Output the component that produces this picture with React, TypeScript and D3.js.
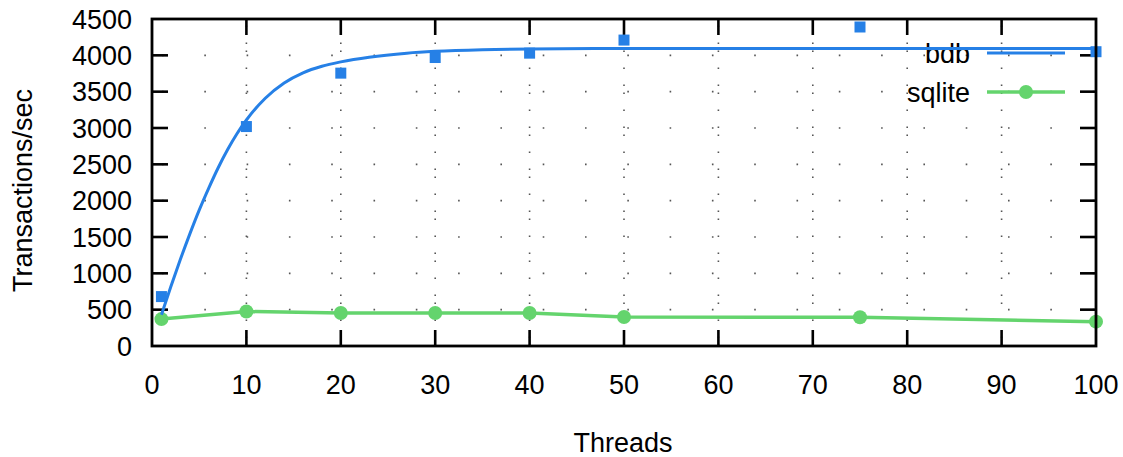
import React from "react";
import * as d3 from "d3";

const threads = [1, 10, 20, 30, 40, 50, 75, 100];
const bdbValues = [680, 3020, 3755, 3970, 4030, 4210, 4390, 4050];
const sqliteValues = [370, 475, 455, 455, 455, 400, 395, 335];

// bdb fitted curve
const bdbFitX = [1, 2, 3, 4, 5, 6, 7, 8, 9, 10, 12, 14, 16, 18, 20, 23, 27, 30, 35, 40, 50, 75, 100];
const bdbFitY = [430, 820, 1190, 1540, 1870, 2170, 2450, 2700, 2920, 3110, 3410, 3620, 3760, 3850, 3910, 3975, 4030, 4055, 4078, 4088, 4094, 4095, 4095];

const xTicks = [0, 10, 20, 30, 40, 50, 60, 70, 80, 90, 100];
const yTicks = [0, 500, 1000, 1500, 2000, 2500, 3000, 3500, 4000, 4500];

const W = 1123;
const H = 457;
const M = { left: 152, right: 1096, top: 19, bottom: 346 };
const BLUE = "#2680e6";
const GREEN = "#64d46d";
const FONT = "'Liberation Sans', Arial, sans-serif";
const FS = 27;

export default function App() {
  const x = d3.scaleLinear().domain([0, 100]).range([M.left, M.right]);
  const y = d3.scaleLinear().domain([0, 4500]).range([M.bottom, M.top]);
  const tick = 16;

  const fitPts: [number, number][] = bdbFitX.map((v, i) => [v, bdbFitY[i]]);
  const fitLine = d3
    .line<[number, number]>()
    .x((d) => x(d[0]))
    .y((d) => y(d[1]))
    .curve(d3.curveMonotoneX)(fitPts) as string;

  const sqPts: [number, number][] = threads.map((t, i) => [t, sqliteValues[i]]);
  const sqLine = d3
    .line<[number, number]>()
    .x((d) => x(d[0]))
    .y((d) => y(d[1]))(sqPts) as string;

  return (
    <svg
      width={W}
      height={H}
      style={{ position: "absolute", left: 0, top: 0, background: "#fff" }}
      fontFamily={FONT}
    >
      <rect x={0} y={0} width={W} height={H} fill="#fff" />
      {/* grid */}
      {xTicks.slice(1, -1).map((t) => (
        <line
          key={"gx" + t}
          x1={x(t)}
          x2={x(t)}
          y1={M.bottom}
          y2={M.top}
          stroke="#555"
          strokeWidth={1.6}
          strokeDasharray="1.6,6.4,1.6,15.4,1.6,15.4"
        />
      ))}
      {yTicks.slice(1, -1).map((t) => (
        <line
          key={"gy" + t}
          x1={M.left}
          x2={M.right}
          y1={y(t)}
          y2={y(t)}
          stroke="#555"
          strokeWidth={1.6}
          strokeDasharray="1.6,40.7"
          strokeDashoffset={-10}
        />
      ))}
      {/* ticks */}
      {xTicks.slice(1, -1).map((t) => (
        <g key={"tx" + t}>
          <line x1={x(t)} x2={x(t)} y1={M.bottom} y2={M.bottom - tick} stroke="#000" strokeWidth={2.6} />
          <line x1={x(t)} x2={x(t)} y1={M.top} y2={M.top + tick} stroke="#000" strokeWidth={2.6} />
        </g>
      ))}
      {yTicks.slice(1, -1).map((t) => (
        <g key={"ty" + t}>
          <line x1={M.left} x2={M.left + tick} y1={y(t)} y2={y(t)} stroke="#000" strokeWidth={2.6} />
          <line x1={M.right} x2={M.right - tick} y1={y(t)} y2={y(t)} stroke="#000" strokeWidth={2.6} />
        </g>
      ))}
      {/* tick labels */}
      {xTicks.map((t) => (
        <text key={"lx" + t} x={x(t)} y={394} textAnchor="middle" fontSize={FS} fill="#000">
          {t}
        </text>
      ))}
      {yTicks.map((t) => (
        <text key={"ly" + t} x={132} y={y(t)} dy="0.36em" textAnchor="end" fontSize={FS} fill="#000">
          {t}
        </text>
      ))}
      {/* axis titles */}
      <text x={623} y={452} textAnchor="middle" fontSize={FS} fill="#000">
        Threads
      </text>
      <text
        transform={`translate(32,${(M.top + M.bottom) / 2 + 8}) rotate(-90)`}
        textAnchor="middle"
        fontSize={FS}
        fill="#000"
      >
        Transactions/sec
      </text>
      {/* legend */}
      <text x={970} y={53} dy="0.36em" textAnchor="end" fontSize={FS} fill="#000">
        bdb
      </text>
      <line x1={987} x2={1065} y1={53} y2={53} stroke={BLUE} strokeWidth={3} />
      <text x={970} y={92} dy="0.36em" textAnchor="end" fontSize={FS} fill="#000">
        sqlite
      </text>
      <line x1={987} x2={1065} y1={92} y2={92} stroke={GREEN} strokeWidth={3.5} />
      <circle cx={1026} cy={92} r={7} fill={GREEN} />
      {/* series */}
      <path d={sqLine} fill="none" stroke={GREEN} strokeWidth={3.5} />
      {sqPts.map((p, i) => (
        <circle key={"sp" + i} cx={x(p[0])} cy={y(p[1])} r={7} fill={GREEN} />
      ))}
      <path d={fitLine} fill="none" stroke={BLUE} strokeWidth={3} />
      {threads.map((t, i) => (
        <rect
          key={"bp" + i}
          x={x(t) - 5.5}
          y={y(bdbValues[i]) - 5.5}
          width={11}
          height={11}
          fill={BLUE}
        />
      ))}
      {/* border */}
      <rect
        x={M.left}
        y={M.top}
        width={M.right - M.left}
        height={M.bottom - M.top}
        fill="none"
        stroke="#000"
        strokeWidth={2.8}
      />
    </svg>
  );
}
